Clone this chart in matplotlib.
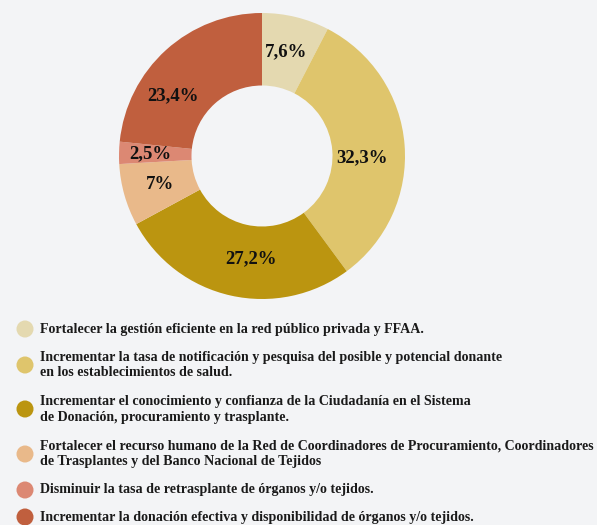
import numpy as np
import matplotlib.pyplot as plt

labels = [
    "Fortalecer la gestión eficiente en la red público privada y FFAA.",
    "Incrementar la tasa de notificación y pesquisa del posible y potencial donante\nen los establecimientos de salud.",
    "Incrementar el conocimiento y confianza de la Ciudadanía en el Sistema\nde Donación, procuramiento y trasplante.",
    "Fortalecer el recurso humano de la Red de Coordinadores de Procuramiento, Coordinadores\nde Trasplantes y del Banco Nacional de Tejidos",
    "Disminuir la tasa de retrasplante de órganos y/o tejidos.",
    "Incrementar la donación efectiva y disponibilidad de órganos y/o tejidos.",
]
values = [7.6, 32.3, 27.2, 7, 2.5, 23.4]
pct_text = ["7,6%", "32,3%", "27,2%", "7%", "2,5%", "23,4%"]
colors = ["#e4d9b0", "#dfc56c", "#bb9510", "#e9b98a", "#dc8873", "#c05f3e"]

# label placement tweaks (angle shift in degrees, radius as fraction of outer)
lab_shift = [0.7, -5.6, 6.4, 0, 0, 14]
lab_rad = [0.75, 0.70, 0.72, 0.74, 0.78, 0.75]

bg = "#f3f4f6"
W, H = 597, 525
fig = plt.figure(figsize=(W / 100, H / 100), dpi=100, facecolor=bg)

# donut
cx, cy, r = 262, 156, 143
ax = fig.add_axes([(cx - r) / W, (H - cy - r) / H, 2 * r / W, 2 * r / H])
ax.set_facecolor(bg)
wedges, _ = ax.pie(values, colors=colors, startangle=90, counterclock=False,
                   radius=1.0, wedgeprops=dict(width=0.507, linewidth=0))
ax.set_xlim(-1, 1)
ax.set_ylim(-1, 1)
ax.set_aspect("equal")
ax.axis("off")

font = "Liberation Serif"
for w, t, da, rr in zip(wedges, pct_text, lab_shift, lab_rad):
    ang = np.deg2rad((w.theta1 + w.theta2) / 2 + da)
    ax.text(rr * np.cos(ang), rr * np.sin(ang), t, ha="center", va="center",
            fontsize=13.5, fontweight="bold", family=font, color="#111111")

# legend
lax = fig.add_axes([0, 0, 1, 1])
lax.set_xlim(0, W)
lax.set_ylim(H, 0)
lax.axis("off")

row_y = [329, 365, 409, 454, 490, 517]
lax.scatter([25] * len(row_y), row_y, s=150, c=colors, linewidths=0)
for y, lab in zip(row_y, labels):
    lax.text(40, y, lab, ha="left", va="center", fontsize=10.1,
             fontweight="bold", family=font, color="#1a1a1a", linespacing=1.3)

fig.savefig("out.png", dpi=100, facecolor=bg)
